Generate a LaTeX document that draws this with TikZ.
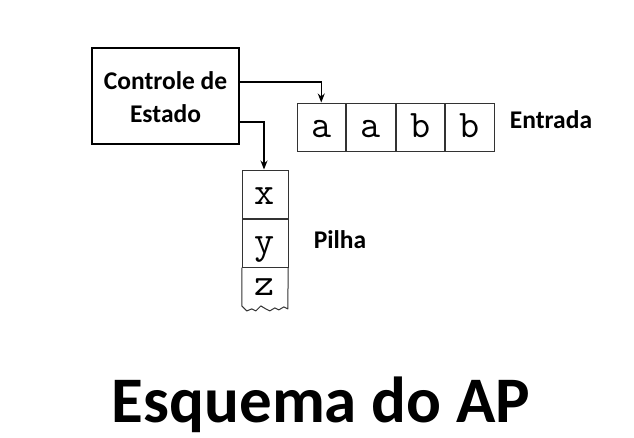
\documentclass[tikz,border=0pt]{standalone}
\usepackage{fontspec}
\setmainfont{Carlito}
\usetikzlibrary{arrows.meta}
\begin{document}
\begin{tikzpicture}[x=1pt,y=-1pt,
  lbl/.style={font=\fontsize{25.5}{33}\selectfont\bfseries, inner sep=0pt},
  mono/.style={font=\fontsize{39}{39}\ttfamily, text height=21pt, text depth=1pt},
  cell/.style={draw=black!80, line width=1pt, minimum width=48.5pt, minimum height=48pt, inner sep=0pt, mono},
  scell/.style={cell, minimum width=46pt},
  conn/.style={line width=1.2pt, -{Stealth[length=9pt,width=7pt]}},
]
\useasboundingbox (0,0) rectangle (634,437);
% control box
\node[draw, line width=1.2pt, minimum width=147pt, minimum height=96pt, inner sep=0pt] (ctrl) at (165.5,96) {};
\node[lbl, anchor=base] (t1) at (165.5,89) {Controle de};
\node[lbl, anchor=base] (t2) at (165.5,122) {Estado};
% input tape
\node[cell] (i1) at (321.25,127) {a};
\node[cell, anchor=west] (i2) at (i1.east) {a};
\node[cell, anchor=west] (i3) at (i2.east) {b};
\node[cell, anchor=west] (i4) at (i3.east) {b};
\node[lbl] (entrada) at (551,120) {Entrada};
% stack
\node[scell] (s1) at (265,194) {x};
\node[scell, anchor=north] (s2) at (s1.south) {y};
\node[inner sep=0pt, minimum width=46pt, minimum height=36pt, mono, anchor=north] (s3) at (s2.south) {z};
\draw[black!80, line width=1pt, line join=round] (s3.north west) -- ([yshift=-2pt]s3.south west)
  -- ++(5,5) -- ++(5,-2) -- ++(4,2) -- ++(5,-5) -- ++(5,3) -- ++(4,2) -- ++(5,-3) -- ++(4,2) -- ++(5,-3) -- ++(4,2)
  -- (s3.north east);
\node[lbl] (pilha) at (340,240) {Pilha};
% connectors
\coordinate (a1) at (ctrl.east |- 0,82);
\coordinate (a2) at (ctrl.east |- 0,122);
\draw[conn] (a1) -| (i1.north);
\draw[conn] (a2) -| ([xshift=-1pt]s1.north);
% title
\node[font=\fontsize{65}{68}\selectfont\bfseries, anchor=base, inner sep=0pt] (title) at (321,422) {Esquema do AP};
\end{tikzpicture}
\end{document}
